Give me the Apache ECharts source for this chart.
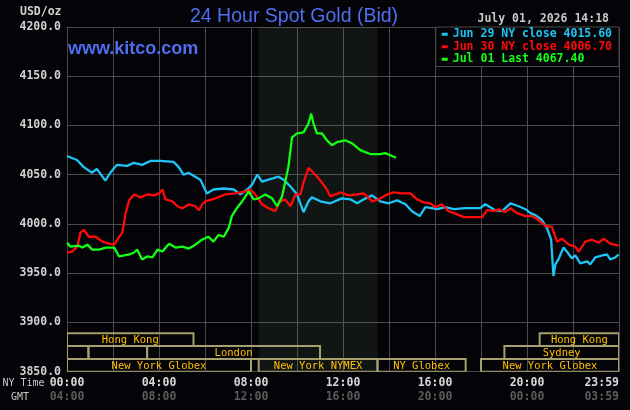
<!DOCTYPE html>
<html>
<head>
<meta charset="utf-8">
<title>24 Hour Spot Gold (Bid)</title>
<script src="https://cdn.jsdelivr.net/npm/echarts@6/dist/echarts.min.js"></script>
<style>
    html, body {margin: 0; padding: 0; background: #040307;}
    #chart {width: 630px; height: 410px;}
</style>
</head>
<body>
<div id="chart"></div>
<script>
// minutes after 00:00 NY time, price in USD/oz
const jun29Minutes = [0, 26, 43, 65, 78, 100, 113, 130, 157, 174, 196, 217, 243, 278, 291, 304, 317, 330, 348, 365, 382, 409, 435, 452, 470, 483, 496, 509, 526, 552, 565, 583, 600, 617, 630, 639, 661, 687, 717, 739, 757, 774, 796, 817, 839, 861, 883, 900, 920, 935, 952, 965, 987, 1009, 1039, 1078, 1091, 1117, 1135, 1157, 1178, 1196, 1209, 1222, 1239, 1252, 1263, 1269, 1274, 1282, 1295, 1304, 1317, 1326, 1339, 1357, 1365, 1378, 1396, 1409, 1417, 1430, 1439];
const jun29Prices = [4069, 4065, 4058, 4052, 4056, 4044, 4052, 4060, 4059, 4062, 4060, 4064, 4064, 4063, 4058, 4050, 4052, 4049, 4045, 4031, 4035, 4036, 4035, 4030, 4035, 4040, 4050, 4043, 4045, 4048, 4045, 4038, 4030, 4012, 4023, 4027, 4023, 4021, 4026, 4025, 4021, 4025, 4029, 4023, 4021, 4024, 4020, 4013, 4008, 4017, 4016, 4015, 4017, 4015, 4016, 4016, 4020, 4014, 4013, 4021, 4018, 4015, 4011, 4009, 4004, 3996, 3984, 3947, 3959, 3964, 3976, 3972, 3965, 3968, 3960, 3962, 3959, 3966, 3968, 3969, 3964, 3966, 3969];

const jun30Minutes = [0, 14, 27, 35, 44, 57, 75, 92, 110, 123, 136, 144, 153, 162, 175, 192, 209, 227, 240, 249, 257, 275, 288, 301, 318, 335, 344, 353, 361, 387, 413, 439, 465, 478, 491, 509, 526, 543, 556, 569, 583, 596, 609, 617, 630, 648, 665, 678, 687, 713, 735, 757, 774, 796, 813, 835, 852, 874, 896, 913, 930, 948, 961, 978, 995, 1017, 1035, 1083, 1096, 1113, 1126, 1143, 1157, 1174, 1196, 1213, 1230, 1248, 1265, 1278, 1291, 1309, 1326, 1335, 1352, 1370, 1387, 1400, 1417, 1439];
const jun30Prices = [3971, 3972, 3977, 3991, 3994, 3987, 3987, 3982, 3980, 3979, 3987, 3991, 4011, 4024, 4030, 4027, 4030, 4029, 4031, 4035, 4025, 4023, 4018, 4016, 4020, 4018, 4014, 4020, 4023, 4026, 4030, 4031, 4033, 4035, 4030, 4020, 4016, 4013, 4023, 4025, 4018, 4030, 4030, 4042, 4057, 4050, 4042, 4035, 4028, 4032, 4029, 4030, 4031, 4023, 4025, 4030, 4032, 4031, 4031, 4025, 4022, 4021, 4017, 4020, 4013, 4010, 4007, 4007, 4014, 4013, 4015, 4012, 4016, 4011, 4008, 4008, 4004, 3998, 3997, 3982, 3985, 3979, 3977, 3972, 3982, 3984, 3981, 3985, 3980, 3978];

const jul01Minutes = [0, 9, 31, 40, 53, 66, 83, 101, 123, 136, 149, 162, 175, 183, 196, 209, 223, 236, 249, 266, 283, 301, 318, 335, 352, 369, 382, 395, 409, 422, 430, 443, 457, 474, 487, 500, 517, 535, 548, 561, 569, 578, 587, 600, 617, 630, 637, 643, 652, 665, 678, 691, 704, 726, 743, 765, 791, 817, 830, 848, 858];
const jul01Prices = [3981, 3977, 3978, 3976, 3979, 3974, 3974, 3976, 3976, 3967, 3968, 3969, 3971, 3974, 3964, 3967, 3966, 3974, 3972, 3980, 3976, 3977, 3975, 3979, 3984, 3987, 3982, 3989, 3987, 3996, 4008, 4016, 4023, 4033, 4025, 4026, 4030, 4026, 4018, 4028, 4042, 4059, 4088, 4092, 4093, 4102, 4112, 4102, 4092, 4092, 4085, 4080, 4083, 4085, 4082, 4075, 4071, 4071, 4072, 4069, 4067.4];

const seriesNames = ['Jun 29 NY close', 'Jun 30 NY close', 'Jul 01 Last'];
const legendValues = [4015.60, 4006.70, 4067.40];

const nyTimeLabels = ['00:00', '04:00', '08:00', '12:00', '16:00', '20:00', '23:59'];
const gmtTimeLabels = ['04:00', '08:00', '12:00', '16:00', '20:00', '00:00', '03:59'];

// trading sessions, minutes NY time, row 0 = top
const sessionNames = ['Hong Kong', 'Hong Kong', '', '', 'London', 'Sydney', 'New York Globex', 'New York NYMEX', 'NY Globex', 'New York Globex'];
const sessionStart = [0, 1233, 0, 56, 209, 1141, 0, 500, 810, 1080];
const sessionEnd = [330, 1440, 56, 209, 660, 1440, 480, 810, 1040, 1440];
const sessionRow = [0, 0, 1, 1, 1, 1, 2, 2, 2, 2];
const nymexHours = [500, 810];

const BG = '#040307';
const GRID = '#4b4b4b';
const MONO = '"DejaVu Sans Mono", monospace';
const colors = ['#1ec4f5', '#ff0a0a', '#14ff14'];
const rowEdges = [3889, 3876, 3863, 3850]; // session bands inside plot, price units

function zip(xs, ys) {
    return xs.map((x, i) => [x, ys[i]]);
}

const lineSeries = [
    zip(jun29Minutes, jun29Prices),
    zip(jun30Minutes, jun30Prices),
    zip(jul01Minutes, jul01Prices)
].map((data, i) => ({
    name: seriesNames[i],
    type: 'line',
    data: data,
    showSymbol: false,
    silent: true,
    z: 3,
    lineStyle: {width: 2.3, color: colors[i]},
    itemStyle: {color: colors[i]}
}));

const sessionSeries = {
    type: 'custom',
    silent: true,
    z: 2,
    clip: true,
    encode: {x: [0, 1]},
    data: sessionNames.map((n, i) => [sessionStart[i], sessionEnd[i], sessionRow[i]]),
    markArea: {
        silent: true,
        itemStyle: {color: 'rgba(112,143,100,0.13)'},
        data: [[{xAxis: nymexHours[0]}, {xAxis: nymexHours[1]}]]
    },
    renderItem: function (params, api) {
        const row = api.value(2);
        const p0 = api.coord([api.value(0), rowEdges[row]]);
        const p1 = api.coord([api.value(1), rowEdges[row + 1]]);
        return {
            type: 'group',
            children: [{
                type: 'rect',
                shape: {x: p0[0], y: p0[1], width: p1[0] - p0[0], height: p1[1] - p0[1]},
                style: {fill: null, stroke: '#a5a06e', lineWidth: 2}
            }, {
                type: 'text',
                style: {
                    text: sessionNames[params.dataIndex],
                    x: (p0[0] + p1[0]) / 2,
                    y: (p0[1] + p1[1]) / 2 + 0.5,
                    align: 'center',
                    verticalAlign: 'middle',
                    fill: '#ffc000',
                    font: 'normal 10.5px ' + MONO
                }
            }]
        };
    }
};

const chart = echarts.init(document.getElementById('chart'));

chart.setOption({
    backgroundColor: BG,
    animation: false,
    grid: {left: 67, right: 11, top: 27, bottom: 38.3},
    legend: {
        right: 11,
        top: 27,
        orient: 'vertical',
        selectedMode: false,
        backgroundColor: BG,
        borderColor: GRID,
        borderWidth: 1,
        borderRadius: 0,
        padding: [1, 7, 1, 6],
        itemGap: 0,
        itemWidth: 6,
        itemHeight: 3,
        icon: 'rect',
        z: 5,
        data: seriesNames.map((n, i) => ({
            name: n,
            textStyle: {color: colors[i]}
        })),
        formatter: function (name) {
            return name + ' ' + legendValues[seriesNames.indexOf(name)].toFixed(2);
        },
        textStyle: {fontFamily: MONO, fontWeight: 'bold', fontSize: 11.5, lineHeight: 12.5, padding: 0}
    },
    xAxis: {
        type: 'value',
        min: 0,
        max: 1440,
        interval: 120,
        axisLine: {show: true, lineStyle: {color: GRID}},
        axisTick: {show: false},
        splitLine: {show: true, lineStyle: {color: GRID, width: 1}},
        axisLabel: {
            margin: 5,
            showMinLabel: true,
            showMaxLabel: true,
            alignMaxLabel: 'right',
            formatter: function (v) {
                if (v % 240 !== 0) return '';
                const i = v / 240;
                return '{ny|' + nyTimeLabels[i] + '}\n{gmt|' + gmtTimeLabels[i] + '}';
            },
            rich: {
                ny: {color: '#d8d8d8', fontFamily: MONO, fontWeight: 'bold', fontSize: 11.5, lineHeight: 13.5},
                gmt: {color: '#5c5c5c', fontFamily: MONO, fontWeight: 'bold', fontSize: 11.5, lineHeight: 13.5}
            }
        }
    },
    yAxis: {
        type: 'value',
        min: 3850,
        max: 4200,
        interval: 50,
        axisLine: {show: true, lineStyle: {color: GRID}},
        axisTick: {show: false},
        splitLine: {show: true, lineStyle: {color: GRID, width: 1}},
        axisLabel: {
            margin: 6,
            color: '#d0d0d0',
            fontFamily: MONO,
            fontWeight: 'bold',
            fontSize: 11.5,
            formatter: v => v.toFixed(1)
        }
    },
    graphic: [{
        type: 'text',
        style: {
            text: '24 Hour Spot Gold (Bid)', x: 190, y: 16.2, verticalAlign: 'middle',
            fill: '#506ef0', font: 'normal 19.5px "Liberation Sans", Arial, sans-serif'
        }
    }, {
        type: 'text',
        z: 10,
        style: {
            text: 'www.kitco.com', x: 68, y: 48.8, verticalAlign: 'middle',
            fill: '#506ef0', font: 'bold 18px "Liberation Sans", Arial, sans-serif'
        }
    }, {
        type: 'text',
        style: {
            text: 'USD/oz', x: 20, y: 12.5, verticalAlign: 'middle',
            fill: '#d0d0d0', font: 'bold 11.5px ' + MONO
        }
    }, {
        type: 'text',
        style: {
            text: 'July 01, 2026 14:18', x: 609, y: 19.3, align: 'right', verticalAlign: 'middle',
            fill: '#c8c8c8', font: 'bold 11.5px ' + MONO
        }
    }, {
        type: 'text',
        style: {
            text: 'NY Time', x: 2.5, y: 383.7, verticalAlign: 'middle',
            fill: '#c8c8c8', font: 'normal 10px ' + MONO
        }
    }, {
        type: 'text',
        style: {
            text: 'GMT', x: 11, y: 397.4, verticalAlign: 'middle',
            fill: '#c8c8c8', font: 'normal 10px ' + MONO
        }
    }],
    series: [sessionSeries].concat(lineSeries)
});
</script>
</body>
</html>
